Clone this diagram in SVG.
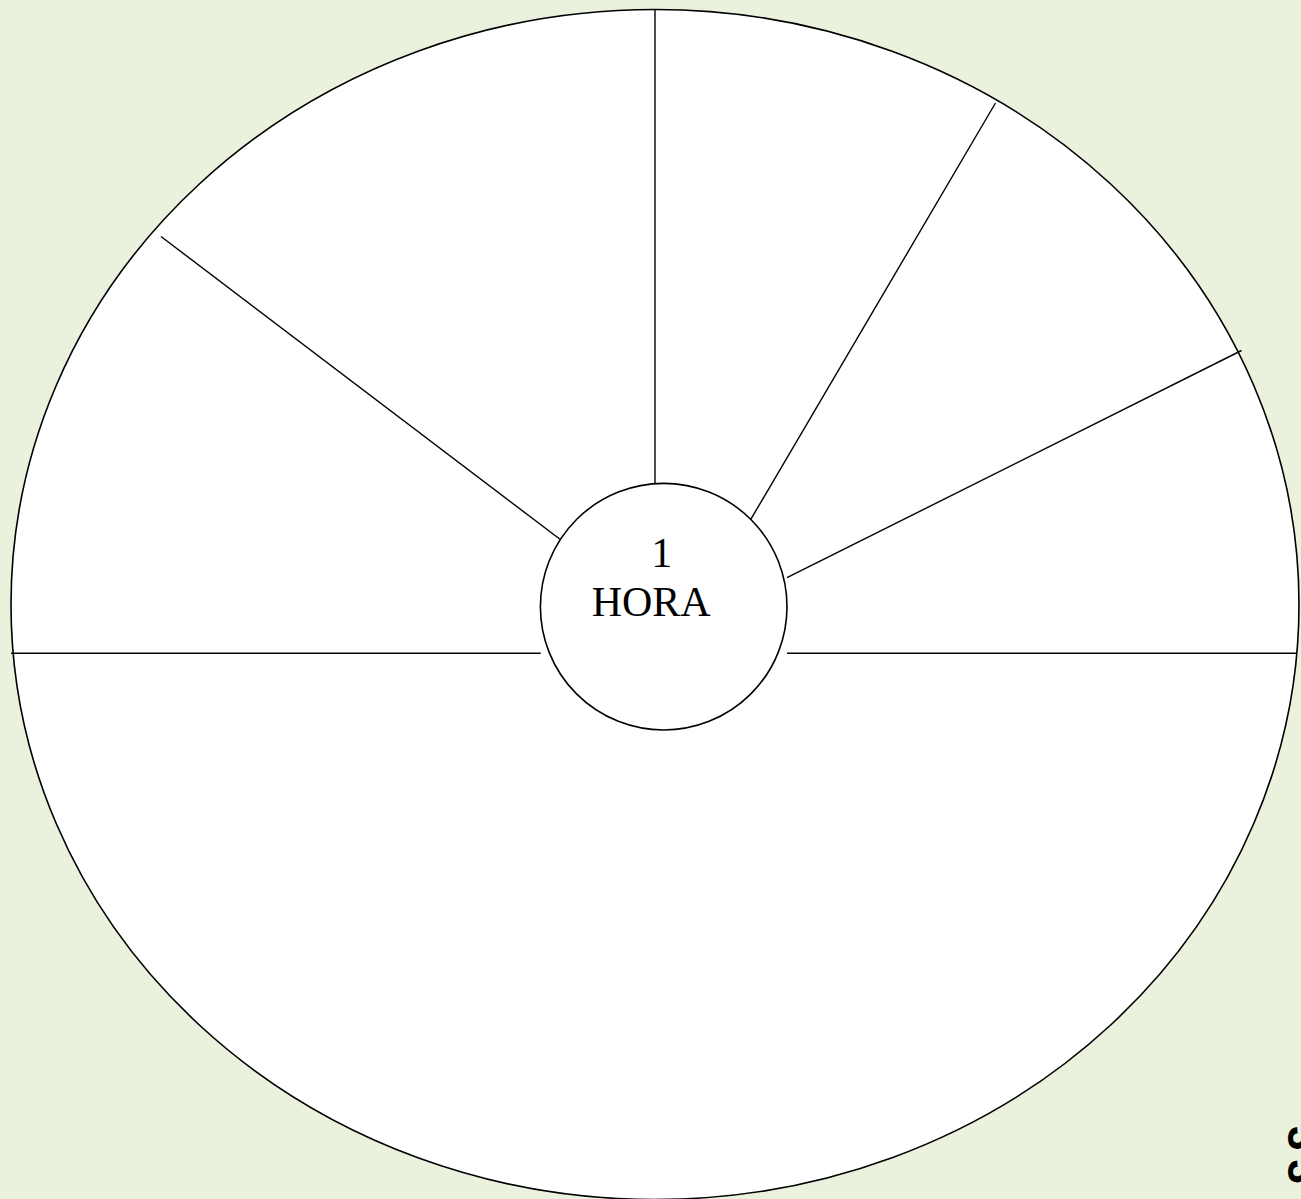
<svg xmlns="http://www.w3.org/2000/svg" width="1301" height="1199" viewBox="0 0 1301 1199">
<style>
.shape{fill:#ffffff;stroke:#000000;stroke-width:1.6}
.conn line{stroke:#000000;stroke-width:1.4}
.lbl{font-family:"Liberation Serif","Times New Roman",serif;font-size:42px;fill:#000000}
.pg{font-family:"Liberation Sans",Arial,sans-serif;font-size:44px;font-weight:bold;fill:#000000}
</style>
<rect x="0" y="0" width="1301" height="1199" fill="#eaf1dd"/>
<g id="outer-circle">
<ellipse class="shape" cx="655" cy="604.5" rx="644" ry="595"/>
</g>
<g id="connectors" class="conn">
<line x1="655" y1="10" x2="655" y2="483"/>
<line x1="995.5" y1="103" x2="750" y2="520.7"/>
<line x1="1241.5" y1="350.5" x2="787" y2="577.7"/>
<line x1="787" y1="653.3" x2="1297" y2="653.3"/>
<line x1="11" y1="653.3" x2="540.7" y2="653.3"/>
<line x1="161" y1="236.5" x2="560" y2="539.3"/>
</g>
<g id="center-node">
<circle class="shape" cx="663.7" cy="606.7" r="123.3"/>
<text class="lbl" x="661.7" y="566.7" text-anchor="middle">1</text>
<text class="lbl" x="651.2" y="616" text-anchor="middle">HORA</text>
</g>
<g id="page-number">
<text class="pg" transform="translate(1288,1126) rotate(90)" letter-spacing="9">33</text>
</g>
</svg>
